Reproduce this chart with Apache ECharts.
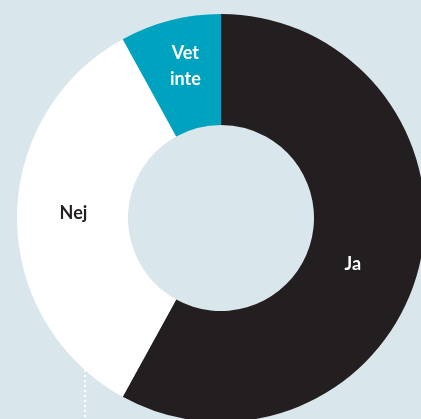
<!DOCTYPE html>
<html>
<head>
<meta charset="utf-8">
<script src="https://cdn.jsdelivr.net/npm/echarts@6/dist/echarts.min.js"></script>
<style>
  html, body { margin: 0; padding: 0; background: #d9e6ec; }
  #chart { width: 421px; height: 419px; }
</style>
</head>
<body>
<div id="chart"></div>
<script>
// svar
const categories = ['Ja', 'Nej', 'Vet\ninte']
const values = [58, 34, 8]
const colors = ['#231f20', '#ffffff', '#00a3bf']
const labelColors = ['#ffffff', '#231f20', '#ffffff']
// små justeringar av etiketternas läge
const labelShift = [[-15, 9], [4, -5], [2, -5]]

const myChart = echarts.init(document.getElementById('chart'))

const seriesData = categories.map((name, i) => ({
  name: name,
  value: values[i],
  itemStyle: { color: colors[i] },
  label: { color: labelColors[i] }
}))

const option = {
  backgroundColor: '#d9e6ec',
  animation: false,
  graphic: [
    {
      // prickad linje nere till vänster
      type: 'line',
      shape: { x1: 85, y1: 370, x2: 85, y2: 419 },
      style: { stroke: '#ffffff', lineWidth: 2, lineDash: [2, 3] },
      z: 0
    }
  ],
  series: [
    {
      type: 'pie',
      center: [221, 218],
      radius: [93, 204],
      startAngle: 90,
      clockwise: true,
      silent: true,
      z: 2,
      label: {
        show: true,
        position: 'inside',
        fontFamily: 'Lato',
        fontWeight: 'bold',
        fontSize: 18,
        lineHeight: 26,
        formatter: '{b}'
      },
      labelLayout: function (params) {
        const s = labelShift[params.dataIndex]
        return { dx: s[0], dy: s[1] }
      },
      labelLine: { show: false },
      data: seriesData
    }
  ]
}

myChart.setOption(option)
</script>
</body>
</html>
